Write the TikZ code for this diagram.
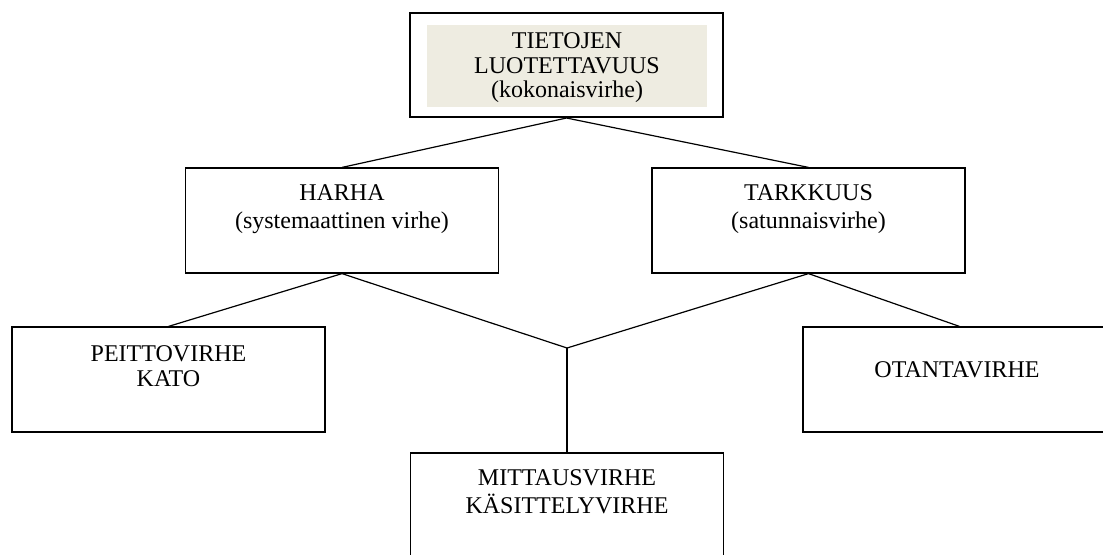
\documentclass[tikz,border=0pt]{standalone}
\usepackage{fontspec}
\setmainfont{Liberation Serif}
\usepackage{xcolor}
\definecolor{taustabeige}{HTML}{EEECE1}

\begin{document}
\begin{tikzpicture}[x=0.5pt,y=-0.5pt,
    laatikko/.style={draw, line width=0.6pt, minimum width=156.5pt, minimum height=52.5pt, inner sep=0pt},
    teksti/.style={anchor=base, align=center, inner sep=0pt, font=\fontsize{12}{13.8}\selectfont}]
    \useasboundingbox (0,0) rectangle (1103,554);
    \clip (0,0) rectangle (1103,554);
    \node[fill=taustabeige, minimum width=140pt, minimum height=41pt, inner sep=0pt] (tausta) at (567,66) {};
    \node[laatikko, line width=1pt, minimum height=52pt] (luotettavuus) at (566.5,65) {};
    \node[laatikko] (harha) at (342,220.5) {};
    \node[laatikko] (tarkkuus) at (808.5,220.5) {};
    \node[laatikko] (peittovirhe) at (168.5,379.5) {};
    \node[laatikko] (otantavirhe) at (959.5,379.5) {};
    \node[laatikko] (mittausvirhe) at (567,505.5) {};
    \node[teksti, font=\fontsize{12}{12.35}\selectfont] (luotettavuus-t) at (567,97.7) {TIETOJEN\\LUOTETTAVUUS\\(kokonaisvirhe)};
    \node[teksti] (harha-t) at (342,228.3) {HARHA\\(systemaattinen virhe)};
    \node[teksti] (tarkkuus-t) at (808.5,228) {TARKKUUS\\(satunnaisvirhe)};
    \node[teksti, font=\fontsize{12}{12.5}\selectfont] (peittovirhe-t) at (168.5,386.7) {PEITTOVIRHE\\KATO};
    \node[teksti] (otantavirhe-t) at (957,377) {OTANTAVIRHE};
    \node[teksti, font=\fontsize{12}{14}\selectfont] (mittausvirhe-t) at (567,513) {MITTAUSVIRHE\\KÄSITTELYVIRHE};
    \coordinate (haara) at (567,348);
    \draw[line width=0.6pt] (luotettavuus.south) -- (harha.north);
    \draw[line width=0.6pt] (luotettavuus.south) -- (tarkkuus.north);
    \draw[line width=0.6pt] (harha.south) -- (peittovirhe.north);
    \draw[line width=0.6pt] (tarkkuus.south) -- (otantavirhe.north);
    \draw[line width=0.6pt] (harha.south) -- (haara) -- (tarkkuus.south);
    \draw[line width=0.6pt] (haara) -- (mittausvirhe.north);
\end{tikzpicture}
\end{document}
